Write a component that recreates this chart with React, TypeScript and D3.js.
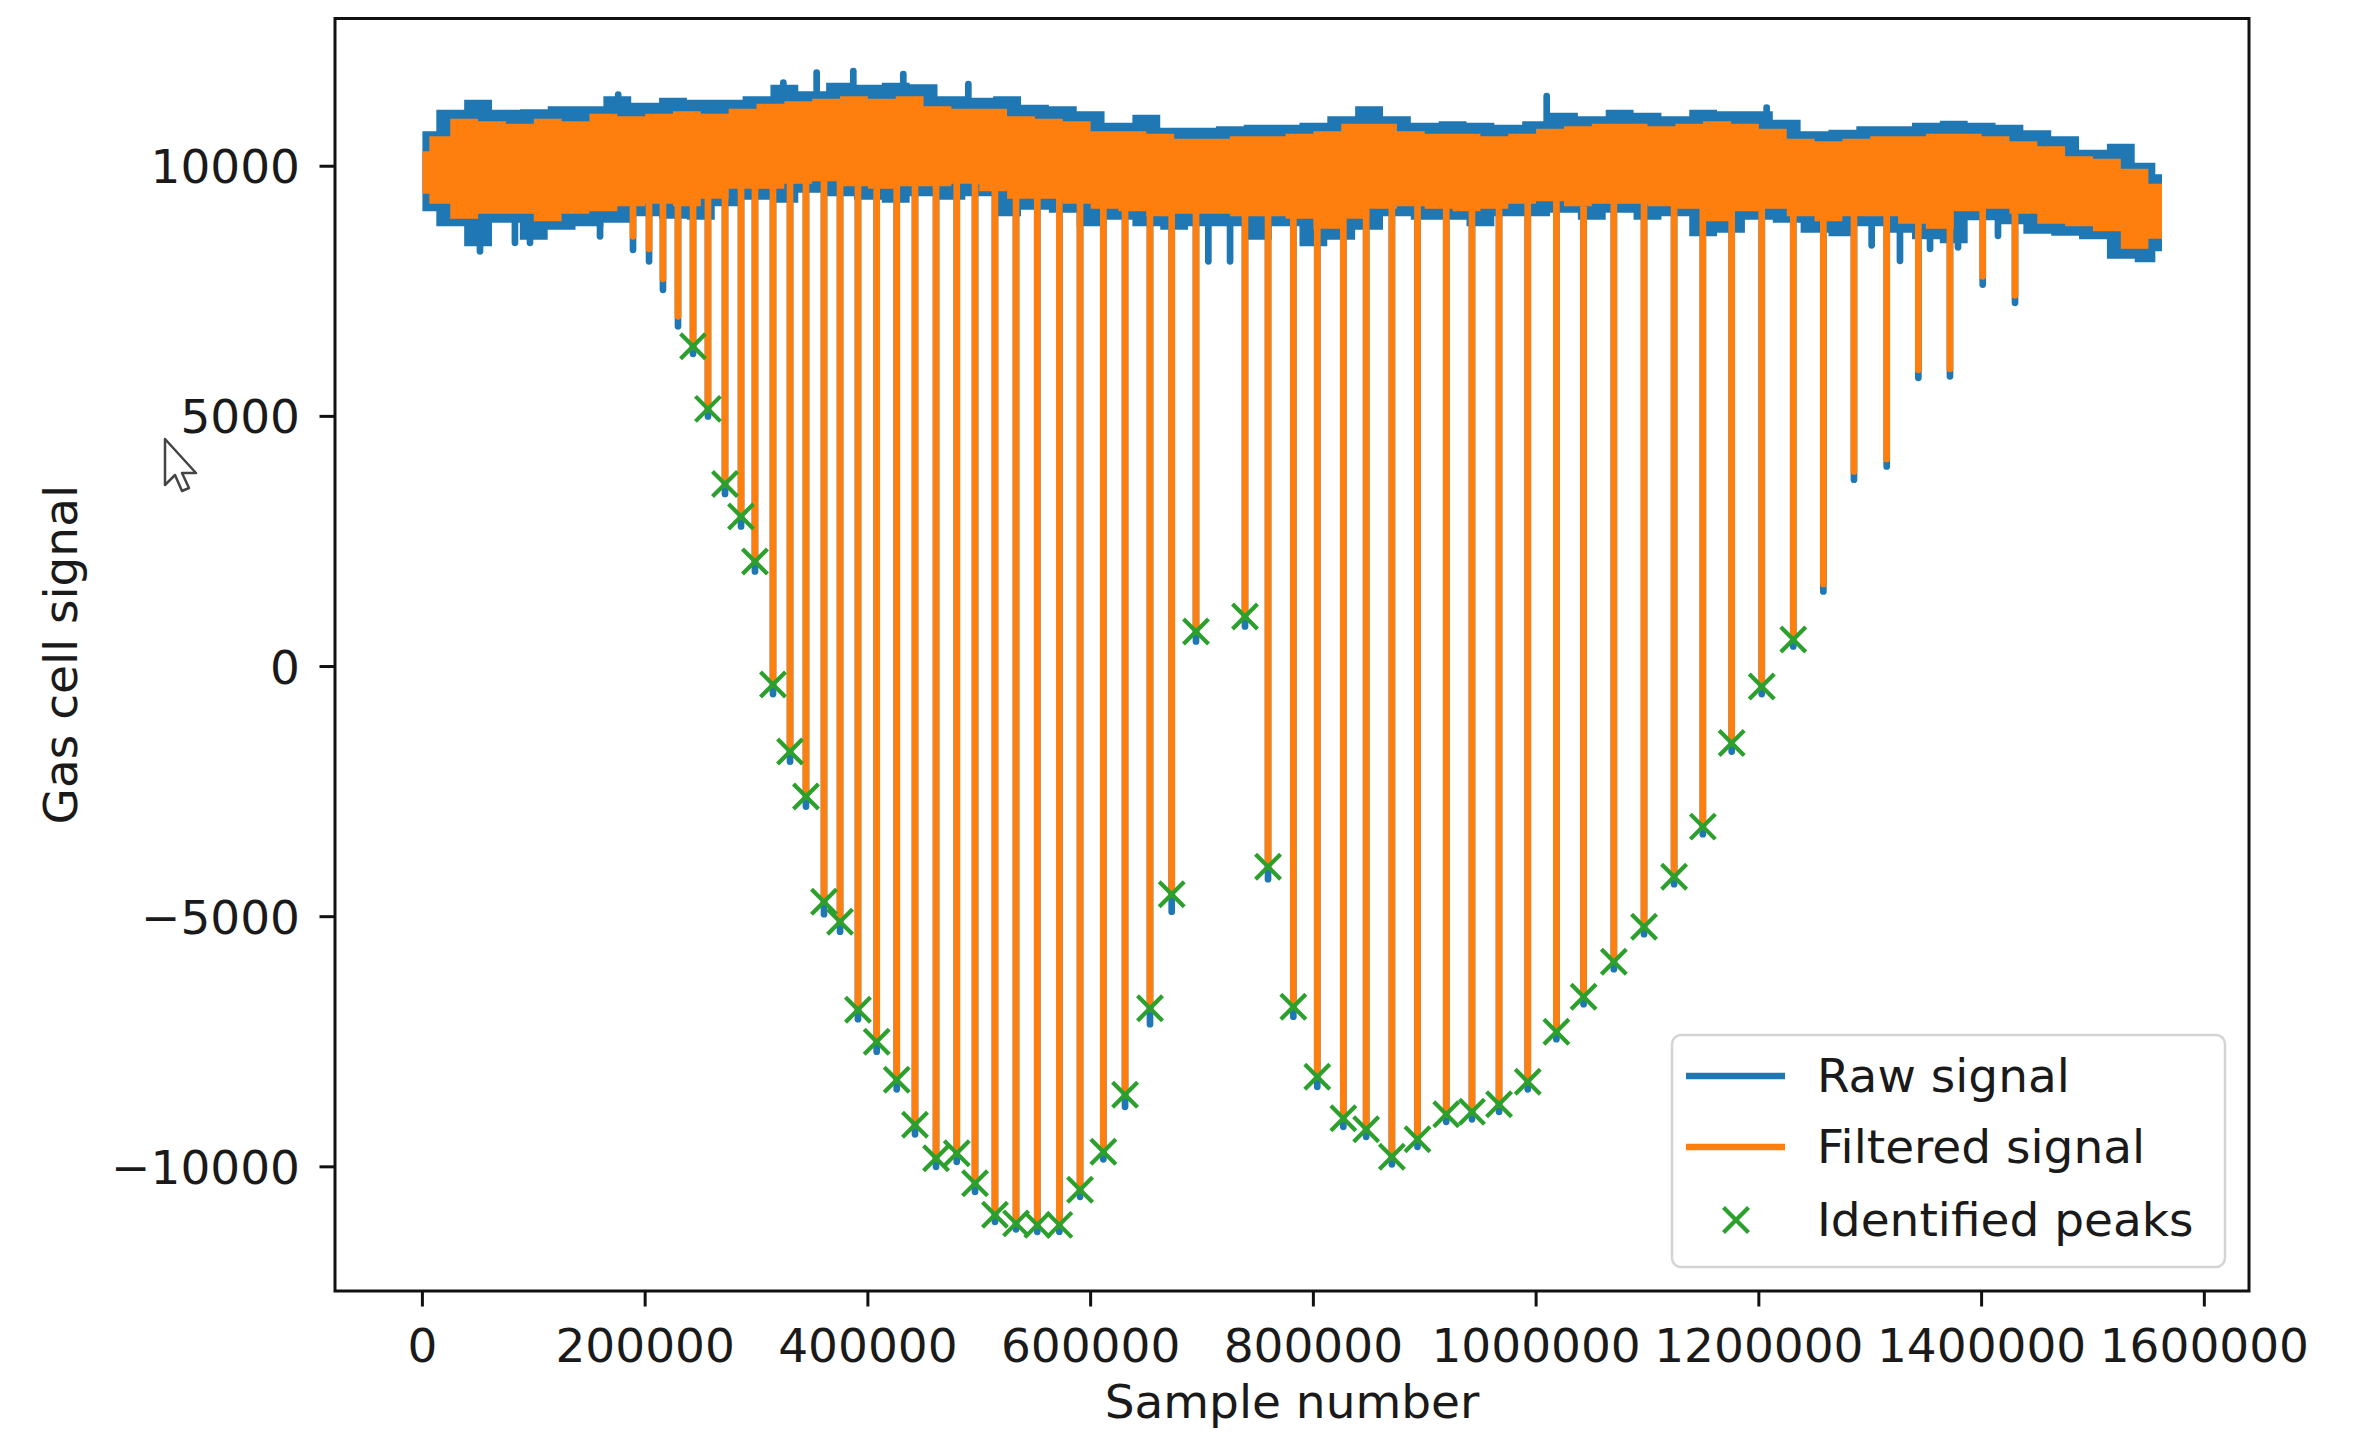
import React from 'react';
import * as d3 from 'd3';

// ---------- data ----------
const xTicks = [0, 200000, 400000, 600000, 800000, 1000000, 1200000, 1400000, 1600000];
const yTicks = [-10000, -5000, 0, 5000, 10000];

// envelope of the noisy raw signal
const rawGrid = [0,25000,50000,75000,100000,125000,150000,175000,200000,225000,250000,275000,300000,325000,350000,375000,400000,425000,450000,475000,500000,525000,550000,575000,600000,625000,650000,675000,700000,725000,750000,775000,800000,825000,850000,875000,900000,925000,950000,975000,1000000,1025000,1050000,1075000,1100000,1125000,1150000,1175000,1200000,1225000,1250000,1275000,1300000,1325000,1350000,1375000,1400000,1425000,1450000,1475000,1500000,1525000,1550000,1562000];
const rawTop = [10700,11130,11330,11130,11140,11200,11200,11400,11270,11370,11330,11330,11400,11630,11500,11670,11630,11670,11640,11400,11370,11400,11230,11200,11100,10870,11030,10770,10770,10800,10830,10830,10870,11000,11200,11000,10870,10900,10870,10830,10900,11070,11000,11130,11070,11000,11130,11100,11100,10930,10700,10730,10800,10800,10870,10910,10870,10830,10720,10600,10330,10450,10070,9840];
const rawBottom = [9100,8800,8400,8870,8530,8730,8800,8870,9000,8950,8930,9200,9330,9270,9470,9400,9330,9270,9400,9330,9400,9000,9130,9070,8800,8930,8800,8730,8800,8800,8530,8800,8400,8530,8730,9000,8930,8930,8800,9000,9000,9070,8930,9070,8930,9000,8600,8670,8930,8870,8670,8600,8800,8670,8540,8460,8920,8840,8650,8610,8540,8150,8080,8300];

// envelope of the filtered signal
const filtGrid = [0,12500,37500,62500,87500,112500,137500,162500,187500,212500,237500,262500,287500,312500,337500,362500,387500,412500,437500,462500,487500,512500,537500,562500,587500,612500,637500,662500,687500,712500,737500,762500,787500,812500,837500,862500,887500,912500,937500,962500,987500,1012500,1037500,1062500,1087500,1112500,1137500,1162500,1187500,1212500,1237500,1262500,1287500,1312500,1337500,1362500,1387500,1412500,1437500,1462500,1487500,1512500,1537500,1562000];
const filtTop = [10300,10600,10950,10900,10850,10950,10900,11050,11000,11050,11100,11050,11150,11250,11300,11350,11400,11350,11400,11200,11150,11150,11000,10950,10900,10700,10700,10650,10550,10550,10600,10600,10650,10700,10850,10850,10700,10650,10650,10600,10650,10750,10800,10850,10850,10800,10850,10900,10850,10750,10550,10500,10550,10600,10600,10650,10650,10600,10500,10400,10200,10150,9950,9650];
const filtBottom = [9450,9250,8950,9050,9050,8900,9050,9100,9200,9250,9200,9350,9550,9550,9650,9700,9600,9550,9600,9600,9650,9500,9350,9350,9250,9150,9100,9000,9050,9050,9000,9000,8950,8750,8950,9150,9200,9150,9100,9150,9250,9300,9200,9250,9250,9200,9150,8900,9100,9150,9000,8900,9000,9000,8850,8750,9100,9150,9050,8850,8800,8700,8350,8550];

// dips before the first identified peak
const preDipSamples = [189100, 203500, 216000, 229500];
const preDipFiltered = [8600, 8350, 7750, 7000];
const preDipRaw = [8330, 8100, 7530, 6800];

// identified peaks (green crosses)
const peakSamples = [243000,256400,271700,286100,298600,314800,330100,344400,360600,375000,391100,407900,425900,442300,461200,479800,496200,514100,533000,552100,571900,590500,611400,630900,653300,672800,694600,738600,759300,782000,803500,826900,847400,870500,893500,919300,942400,966700,992500,1018200,1042600,1069800,1096900,1123900,1149700,1175600,1202600,1230900];
const peakValues = [6400,5150,3650,3000,2100,-360,-1700,-2600,-4700,-5100,-6860,-7500,-8260,-9160,-9830,-9730,-10330,-10960,-11130,-11160,-11160,-10460,-9700,-8560,-6830,-4550,700,1000,-4000,-6800,-8200,-9030,-9250,-9800,-9450,-8950,-8900,-8750,-8300,-7300,-6600,-5900,-5200,-4200,-3200,-1530,-400,540];
const peakRaw = [6250,5000,3450,2800,1900,-550,-1900,-2800,-4950,-5300,-7050,-7700,-8450,-9350,-10000,-9900,-10500,-11100,-11250,-11300,-11300,-10600,-9850,-8800,-7150,-4900,500,800,-4250,-7000,-8400,-9200,-9400,-9950,-9600,-9100,-9050,-8900,-8450,-7450,-6750,-6050,-5350,-4350,-3350,-1700,-550,400];

// dips after the last identified peak
const postDipSamples = [1257900, 1285400, 1314800, 1343200, 1371600, 1401000, 1430000];
const postDipFiltered = [1650, 3900, 4150, 5930, 5950, 7800, 7420];
const postDipRaw = [1500, 3735, 4000, 5770, 5800, 7635, 7270];

// small excursions of the raw signal outside the band
const rawSpikeSamples = [175800, 324100, 354000, 386900, 431800, 490200, 1009500, 1207000];
const rawSpikeValues = [11430, 11670, 11870, 11900, 11840, 11640, 11400, 11170];
const rawNotchSamples = [51700, 83100, 96600, 159500, 705700, 725200, 1301300, 1326700, 1353700, 1378800, 1414700];
const rawNotchValues = [8300, 8470, 8470, 8600, 8100, 8100, 8420, 8110, 8350, 8380, 8610];

const legendLabels = ['Raw signal', 'Filtered signal', 'Identified peaks'];

// ---------- styles ----------
const BLUE = '#1f77b4';
const ORANGE = '#ff7f0e';
const GREEN = '#2ca02c';
const FONT = "'DejaVu Sans', 'Liberation Sans', sans-serif";
const FS = 47;
const TEXT = '#1a1a1a';
const LW = 6.7;

export default function App() {
  const W = 2367, H = 1440;
  const L = 335, R = 2249, T = 18.5, B = 1291;

  const x = d3.scaleLinear().domain([-78480, 1640100]).range([L, R]);
  const y = d3.scaleLinear().domain([-12482, 12953]).range([B, T]);

  const rawArea = d3.area<number>()
    .x((_, i) => x(rawGrid[i]))
    .y0((_, i) => y(rawBottom[i]))
    .y1((d) => y(d))
    .curve(d3.curveStep);
  const filtArea = d3.area<number>()
    .x((_, i) => x(filtGrid[i]))
    .y0((_, i) => y(filtBottom[i]))
    .y1((d) => y(d))
    .curve(d3.curveStep);

  const vline = d3.line<[number, number]>().x((d) => x(d[0])).y((d) => y(d[1]));
  const seg = (s: number, a: number, b: number) => vline([[s, a], [s, b]]) || '';

  const dipS = [...preDipSamples, ...peakSamples, ...postDipSamples];
  const dipF = [...preDipFiltered, ...peakValues, ...postDipFiltered];
  const dipR = [...preDipRaw, ...peakRaw, ...postDipRaw];

  const xMark = (cx: number, cy: number, h: number) =>
    `M${cx - h},${cy - h}L${cx + h},${cy + h}M${cx - h},${cy + h}L${cx + h},${cy - h}`;

  const fmt = (v: number) => String(v).replace('-', '\u2212');

  const clipId = 'plotclip';

  return (
    <svg width={W} height={H} viewBox={`0 0 ${W} ${H}`}
      style={{ position: 'absolute', left: 0, top: 0, background: '#fff' }}>
      <defs>
        <clipPath id={clipId}>
          <rect x={L} y={T} width={R - L} height={B - T} />
        </clipPath>
      </defs>
      <rect x={0} y={0} width={W} height={H} fill="#fff" />

      <g clipPath={`url(#${clipId})`}>
        {/* raw signal */}
        <path d={rawArea(rawTop) || ''} fill={BLUE} />
        {rawSpikeSamples.map((s, i) => (
          <path key={'sp' + i} d={seg(s, 10800, rawSpikeValues[i])}
            stroke={BLUE} strokeWidth={LW} strokeLinecap="round" fill="none" />
        ))}
        {rawNotchSamples.map((s, i) => (
          <path key={'nt' + i} d={seg(s, 9500, rawNotchValues[i])}
            stroke={BLUE} strokeWidth={LW} strokeLinecap="round" fill="none" />
        ))}
        {dipS.map((s, i) => (
          <path key={'rd' + i} d={seg(s, 10000, dipR[i])}
            stroke={BLUE} strokeWidth={LW} strokeLinecap="round" fill="none" />
        ))}

        {/* filtered signal */}
        <path d={filtArea(filtTop) || ''} fill={ORANGE} />
        {dipS.map((s, i) => (
          <path key={'fd' + i} d={seg(s, 10000, dipF[i])}
            stroke={ORANGE} strokeWidth={LW} strokeLinecap="round" fill="none" />
        ))}

        {/* identified peaks */}
        {peakSamples.map((s, i) => (
          <path key={'pk' + i} d={xMark(x(s), y(peakValues[i]), 12.5)}
            stroke={GREEN} strokeWidth={4.2} fill="none" />
        ))}
      </g>

      {/* spines */}
      <rect x={L} y={T} width={R - L} height={B - T} fill="none" stroke="#111" strokeWidth={3} />

      {/* x axis */}
      {xTicks.map((t) => (
        <g key={'xt' + t}>
          <line x1={x(t)} x2={x(t)} y1={B} y2={B + 15.5} stroke="#111" strokeWidth={3} />
          <text x={x(t)} y={1362} textAnchor="middle" fontFamily={FONT} fontSize={FS} fill={TEXT}>{fmt(t)}</text>
        </g>
      ))}
      <text x={(L + R) / 2} y={1418} textAnchor="middle" fontFamily={FONT} fontSize={FS} fill={TEXT}>Sample number</text>

      {/* y axis */}
      {yTicks.map((t) => (
        <g key={'yt' + t}>
          <line x1={L - 15.5} x2={L} y1={y(t)} y2={y(t)} stroke="#111" strokeWidth={3} />
          <text x={300} y={y(t) + 17} textAnchor="end" fontFamily={FONT} fontSize={FS} fill={TEXT}>{fmt(t)}</text>
        </g>
      ))}
      <text transform={`translate(77, ${(T + B) / 2}) rotate(-90)`} textAnchor="middle"
        fontFamily={FONT} fontSize={FS} fill={TEXT}>Gas cell signal</text>

      {/* legend */}
      <g>
        <rect x={1672} y={1035} width={553} height={232} rx={9} ry={9}
          fill="#fff" fillOpacity={0.85} stroke="#d4d4d4" strokeWidth={2.5} />
        <line x1={1686} x2={1785} y1={1076} y2={1076} stroke={BLUE} strokeWidth={LW} />
        <text x={1817} y={1092} fontFamily={FONT} fontSize={FS} fill={TEXT}>{legendLabels[0]}</text>
        <line x1={1686} x2={1785} y1={1147} y2={1147} stroke={ORANGE} strokeWidth={LW} />
        <text x={1817} y={1163} fontFamily={FONT} fontSize={FS} fill={TEXT}>{legendLabels[1]}</text>
        <path d={xMark(1736, 1220, 12.5)} stroke={GREEN} strokeWidth={4.2} fill="none" />
        <text x={1817} y={1236} fontFamily={FONT} fontSize={FS} fill={TEXT}>{legendLabels[2]}</text>
      </g>

      {/* mouse pointer captured in the screenshot */}
      <path d="M165,439 L165,485 L175,475 L182,491 L189,488 L182,473 L196,473 Z"
        fill="#fff" stroke="#444" strokeWidth={2.5} strokeLinejoin="round" />
    </svg>
  );
}
